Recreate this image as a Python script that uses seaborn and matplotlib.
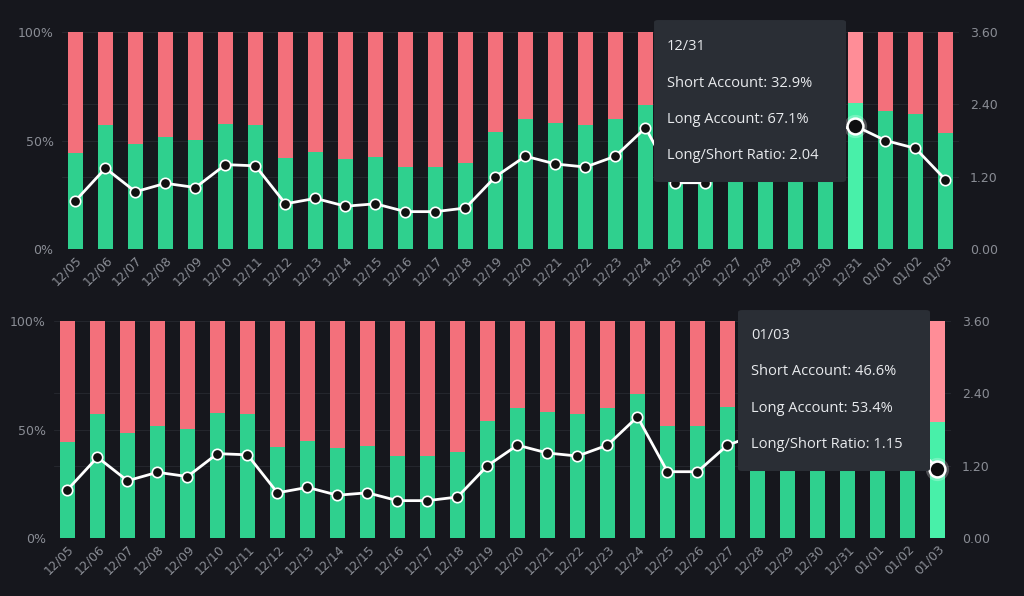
import numpy as np
import pandas as pd
import matplotlib
matplotlib.use("Agg")
import matplotlib.pyplot as plt
from matplotlib.patches import FancyBboxPatch
from matplotlib.ticker import FuncFormatter
import seaborn as sns

# data (same data in both panels)
dates = ['12/05', '12/06', '12/07', '12/08', '12/09', '12/10', '12/11', '12/12',
         '12/13', '12/14', '12/15', '12/16', '12/17', '12/18', '12/19', '12/20',
         '12/21', '12/22', '12/23', '12/24', '12/25', '12/26', '12/27', '12/28',
         '12/29', '12/30', '12/31', '01/01', '01/02', '01/03']
long_pct = [44.2, 57.1, 48.4, 51.6, 50.2, 57.6, 57.1, 42.0, 44.7, 41.3,
            42.4, 37.8, 37.8, 39.6, 53.9, 59.9, 58.1, 57.1, 59.9, 66.4,
            51.6, 51.6, 60.2, 63.5, 65.0, 66.0, 67.1, 63.6, 62.1, 53.4]
ratio = [0.80, 1.34, 0.95, 1.09, 1.02, 1.40, 1.38, 0.75, 0.84, 0.71,
         0.75, 0.62, 0.62, 0.68, 1.20, 1.54, 1.41, 1.36, 1.54, 2.01,
         1.10, 1.10, 1.54, 1.72, 1.86, 1.95, 2.04, 1.80, 1.67, 1.15]
ratio_ticks = [0.0, 1.2, 2.4, 3.6]
pct_ticks = [0, 50, 100]

BG = '#16171d'
GREEN = '#2fd08e'
RED = '#f3707b'
GREEN_HI = '#48f0a9'
RED_HI = '#ff8d97'
GRID = '#24262d'
TICK = '#8a8d95'
TIP_BG = '#2a2e35'
TIP_TXT = '#e8eaed'

df = pd.DataFrame({'date': dates, 'long': long_pct, 'ratio': ratio})
df['total'] = 100.0
df['pos'] = np.arange(len(df))

sns.set_theme(style='dark')
plt.rcParams['font.family'] = ['DejaVu Sans']

fig = plt.figure(figsize=(10.24, 5.96), dpi=100, facecolor=BG)


def panel(rect, hi):
    ax = fig.add_axes(rect)
    ax.set_facecolor(BG)
    sns.barplot(data=df, x='date', y='total', color=RED, width=0.48,
                saturation=1, linewidth=0, ax=ax)
    sns.barplot(data=df, x='date', y='long', color=GREEN, width=0.48,
                saturation=1, linewidth=0, ax=ax)
    n = len(df)
    ax.patches[hi].set_facecolor(RED_HI)
    ax.patches[n + hi].set_facecolor(GREEN_HI)
    ax.set_ylim(0, 100)
    ax.set_xlim(-0.45, n - 0.55)
    ax.set_yticks(pct_ticks)
    # ratio gridlines drawn on the bar axes so they stay behind the bars
    ax.set_yticks([t / ratio_ticks[-1] * 100 for t in ratio_ticks[1:-1]], minor=True)
    ax.yaxis.set_major_formatter(FuncFormatter(lambda v, p: f'{v:.0f}%'))
    ax.set_xlabel('')
    ax.set_ylabel('')
    ax.tick_params(axis='both', which='both', length=0, colors=TICK, labelsize=9)
    ax.tick_params(axis='y', pad=6)
    for lab in ax.get_xticklabels():
        lab.set_rotation(45)
        lab.set_ha('right')
        lab.set_rotation_mode('anchor')
    ax.grid(axis='y', which='both', color=GRID, linewidth=0.8)
    ax.set_axisbelow(True)
    for s in ax.spines.values():
        s.set_visible(False)

    ax2 = ax.twinx()
    sns.lineplot(data=df, x='pos', y='ratio', color='white', linewidth=2,
                 marker='o', markersize=7.5, markerfacecolor='#111111',
                 markeredgecolor='white', markeredgewidth=1.2, ax=ax2)
    ax2.scatter(df['pos'][hi], df['ratio'][hi], s=280, color='white',
                alpha=0.25, zorder=4, linewidths=0)
    ax2.scatter(df['pos'][hi], df['ratio'][hi], s=130, color='#0e0e10',
                edgecolors='white', linewidths=1.8, zorder=5)
    ax2.set_ylim(0, 3.6)
    ax2.set_xlim(ax.get_xlim())
    ax2.set_yticks(ratio_ticks)
    ax2.yaxis.set_major_formatter(FuncFormatter(lambda v, p: f'{v:.2f}'))
    ax2.set_ylabel('')
    ax2.tick_params(axis='y', length=0, colors=TICK, labelsize=9, pad=8)
    ax2.grid(False)
    ax2.set_zorder(ax.get_zorder() + 1)
    ax2.patch.set_visible(False)
    for s in ax2.spines.values():
        s.set_visible(False)
    return ax


def tooltip(x0, y0, w, h, tx, tys, i):
    fig.patches.append(FancyBboxPatch((x0, y0), w, h, transform=fig.transFigure,
                                      boxstyle='round,pad=0,rounding_size=0.004',
                                      facecolor=TIP_BG, edgecolor='none', zorder=10))
    short = 100 - long_pct[i]
    lines = [dates[i], f'Short Account: {short:.1f}%',
             f'Long Account: {long_pct[i]:.1f}%', f'Long/Short Ratio: {ratio[i]:.2f}']
    for ty, t in zip(tys, lines):
        fig.text(tx, ty, t, color=TIP_TXT, fontsize=10.5, va='center',
                 ha='left', zorder=11, family=['Open Sans', 'DejaVu Sans'])


panel([0.0605, 0.5822, 0.876, 0.3641], hi=26)
panel([0.0527, 0.0973, 0.876, 0.3641], hi=29)

tooltip(0.6387, 0.6946, 0.1875, 0.2718, 0.6514, [0.9228, 0.8607, 0.8003, 0.7399], 26)
tooltip(0.7207, 0.2097, 0.1875, 0.2701, 0.7334, [0.4379, 0.3775, 0.3154, 0.2550], 29)

fig.savefig('out.png', dpi=100, facecolor=BG)
